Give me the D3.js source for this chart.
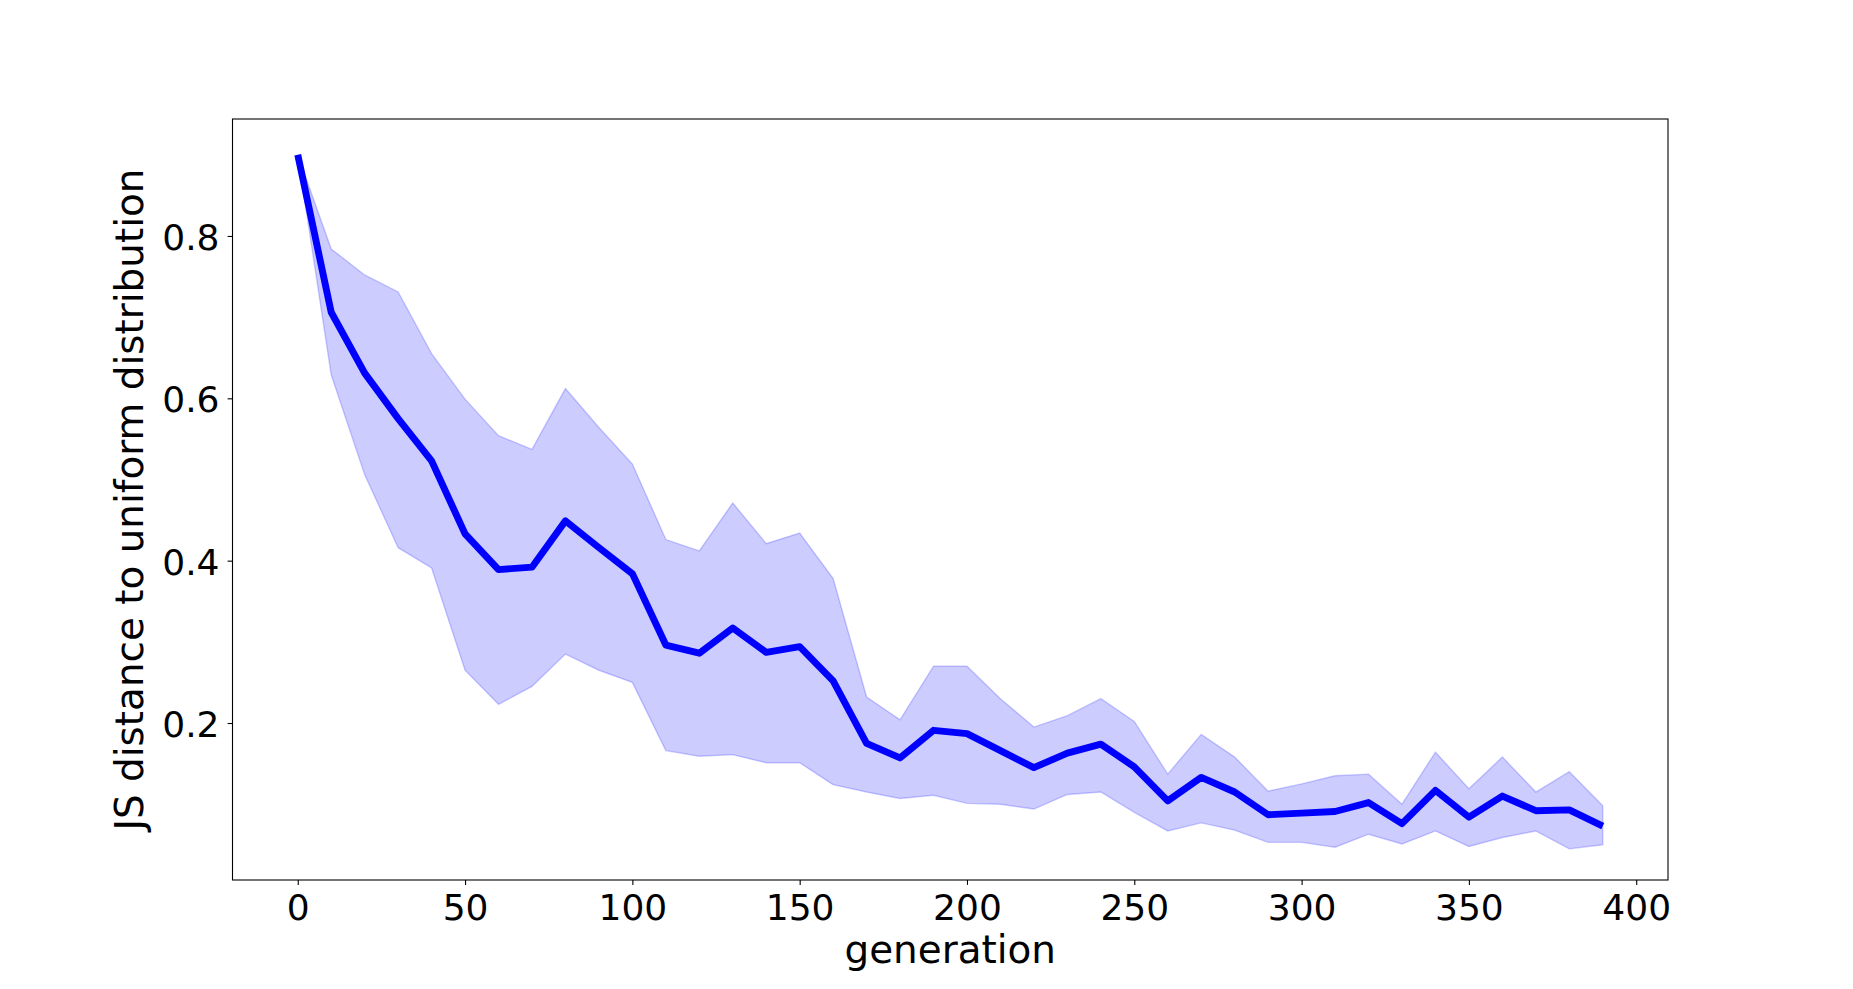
<!DOCTYPE html>
<html>
<head>
<meta charset="utf-8">
<script src="https://cdn.jsdelivr.net/npm/d3@7"></script>
<style>
  html, body { margin: 0; padding: 0; background: #ffffff; }
  svg { display: block; }
  text { font-family: "DejaVu Sans", sans-serif; fill: #000; }
</style>
</head>
<body>
<svg id="chart" width="1853" height="989"></svg>
<script>
// ---- data ----
const generations = [0,10,20,30,40,50,60,70,80,90,100,110,120,130,140,150,160,170,180,190,
                     200,210,220,230,240,250,260,270,280,290,300,310,320,330,340,350,360,370,380,390];
const meanValues = [0.900,0.706,0.631,0.575,0.523,0.433,0.389,0.392,0.449,0.416,
                    0.384,0.296,0.286,0.317,0.287,0.294,0.252,0.175,0.157,0.191,
                    0.187,0.166,0.145,0.163,0.174,0.146,0.104,0.133,0.115,0.087,
                    0.089,0.091,0.102,0.076,0.117,0.084,0.110,0.092,0.093,0.073];
const upperValues = [0.900,0.784,0.752,0.731,0.655,0.599,0.554,0.537,0.612,0.564,
                     0.519,0.426,0.412,0.471,0.421,0.434,0.378,0.232,0.204,0.270,
                     0.270,0.230,0.195,0.209,0.230,0.202,0.137,0.186,0.158,0.116,
                     0.125,0.135,0.137,0.100,0.164,0.119,0.158,0.115,0.140,0.098];
const lowerValues = [0.900,0.629,0.506,0.416,0.391,0.265,0.223,0.245,0.285,0.265,
                     0.250,0.166,0.159,0.161,0.151,0.151,0.124,0.115,0.107,0.111,
                     0.101,0.100,0.094,0.112,0.115,0.090,0.067,0.077,0.068,0.053,
                     0.053,0.047,0.063,0.051,0.067,0.048,0.059,0.067,0.045,0.050];
const xTicks = [0,50,100,150,200,250,300,350,400];
const yTicks = [0.2,0.4,0.6,0.8];
const xLabel = "generation";
const yLabel = "JS distance to uniform distribution";

// ---- layout ----
const svg = d3.select("#chart");
const plot = { left: 232.5, right: 1668, top: 119, bottom: 880 };

const x = d3.scaleLinear().domain([-19.5, 409.5]).range([plot.left, plot.right]);
const y = d3.scaleLinear().domain([0.0066, 0.9441]).range([plot.bottom, plot.top]);

const rows = generations.map((g, i) => ({ g, m: meanValues[i], lo: lowerValues[i], hi: upperValues[i] }));

// band
const area = d3.area().x(d => x(d.g)).y0(d => y(d.lo)).y1(d => y(d.hi));
svg.append("path")
  .datum(rows)
  .attr("d", area)
  .attr("fill", "rgba(0,0,255,0.2)")
  .attr("stroke", "rgba(0,0,255,0.2)")
  .attr("stroke-width", 1.4);

// mean line
const line = d3.line().x(d => x(d.g)).y(d => y(d.m));
svg.append("path")
  .datum(rows)
  .attr("d", line)
  .attr("fill", "none")
  .attr("stroke", "#0000ff")
  .attr("stroke-width", 6.9)
  .attr("stroke-linejoin", "round")
  .attr("stroke-linecap", "butt");

// axes
const tickLen = 4.9;
const xAxis = d3.axisBottom(x).tickValues(xTicks).tickSize(tickLen).tickPadding(4.9).tickFormat(d3.format("d"));
const yAxis = d3.axisLeft(y).tickValues(yTicks).tickSize(tickLen).tickPadding(4.9).tickFormat(d3.format(".1f"));

const gx = svg.append("g").attr("transform", `translate(0,${plot.bottom})`).call(xAxis);
const gy = svg.append("g").attr("transform", `translate(${plot.left},0)`).call(yAxis);

[gx, gy].forEach(g => {
  g.select(".domain").remove();
  g.selectAll(".tick line").attr("stroke", "#000").attr("stroke-width", 1.1);
  g.selectAll(".tick text")
    .style("font-family", "'DejaVu Sans', sans-serif")
    .style("font-size", "36px")
    .attr("fill", "#000");
});
gx.selectAll(".tick text").attr("dy", null).attr("y", 39.5);
gy.selectAll(".tick text").attr("dy", null).attr("dominant-baseline", "auto").attr("y", 13.5).attr("x", -13);

// frame
svg.append("rect")
  .attr("x", plot.left).attr("y", plot.top)
  .attr("width", plot.right - plot.left).attr("height", plot.bottom - plot.top)
  .attr("fill", "none").attr("stroke", "#000").attr("stroke-width", 1.1);

// labels
svg.append("text")
  .attr("x", (plot.left + plot.right) / 2)
  .attr("y", 963)
  .attr("text-anchor", "middle")
  .style("font-size", "38.9px")
  .text(xLabel);

svg.append("text")
  .attr("transform", `translate(143.3,${(plot.top + plot.bottom) / 2}) rotate(-90)`)
  .attr("text-anchor", "middle")
  .style("font-size", "38.9px")
  .text(yLabel);
</script>
</body>
</html>
